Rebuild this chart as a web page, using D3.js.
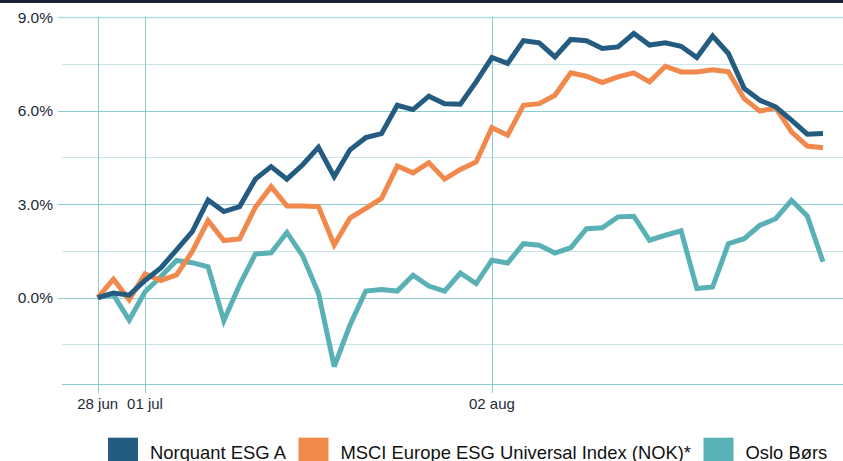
<!DOCTYPE html>
<html>
<head>
<meta charset="utf-8">
<script src="https://cdn.jsdelivr.net/npm/d3@7"></script>
<style>
  html, body { margin: 0; padding: 0; background: #ffffff; }
  svg { display: block; font-family: "Liberation Sans", Arial, sans-serif; }
</style>
</head>
<body>
<svg id="chart" width="843" height="461"></svg>
<script>
// ---- Data ----
const dates = [
  "2021-06-28","2021-06-29","2021-06-30",
  "2021-07-01","2021-07-02",
  "2021-07-05","2021-07-06","2021-07-07","2021-07-08","2021-07-09",
  "2021-07-12","2021-07-13","2021-07-14","2021-07-15","2021-07-16",
  "2021-07-19","2021-07-20","2021-07-21","2021-07-22","2021-07-23",
  "2021-07-26","2021-07-27","2021-07-28","2021-07-29","2021-07-30",
  "2021-08-02","2021-08-03","2021-08-04","2021-08-05","2021-08-06",
  "2021-08-09","2021-08-10","2021-08-11","2021-08-12","2021-08-13",
  "2021-08-16","2021-08-17","2021-08-18","2021-08-19","2021-08-20",
  "2021-08-23","2021-08-24","2021-08-25","2021-08-26","2021-08-27",
  "2021-08-30","2021-08-31"
];

const norquant = [
  0.00, 0.15, 0.08, 0.55, 0.95, 1.53, 2.12, 3.13, 2.76, 2.92,
  3.80, 4.20, 3.80, 4.26, 4.82, 3.88, 4.74, 5.13, 5.26, 6.17,
  6.03, 6.46, 6.22, 6.20, 6.92, 7.70, 7.51, 8.24, 8.17, 7.72,
  8.28, 8.24, 7.99, 8.04, 8.47, 8.10, 8.17, 8.06, 7.70, 8.39,
  7.83, 6.71, 6.33, 6.12, 5.69, 5.24, 5.26
];

const msci = [
  0.00, 0.59, -0.07, 0.76, 0.55, 0.73, 1.48, 2.47, 1.83, 1.88,
  2.90, 3.56, 2.94, 2.94, 2.92, 1.69, 2.55, 2.86, 3.18, 4.22,
  4.00, 4.33, 3.80, 4.11, 4.35, 5.45, 5.21, 6.17, 6.22, 6.49,
  7.21, 7.10, 6.90, 7.08, 7.21, 6.92, 7.42, 7.24, 7.24, 7.31,
  7.24, 6.38, 5.98, 6.09, 5.32, 4.86, 4.81
];

const oslo = [
  0.00, 0.09, -0.72, 0.19, 0.67, 1.19, 1.12, 0.99, -0.74, 0.41,
  1.40, 1.44, 2.09, 1.34, 0.14, -2.21, -0.88, 0.21, 0.26, 0.21,
  0.72, 0.37, 0.21, 0.79, 0.45, 1.20, 1.11, 1.73, 1.68, 1.43,
  1.60, 2.21, 2.24, 2.59, 2.61, 1.84, 2.00, 2.14, 0.29, 0.34,
  1.73, 1.89, 2.32, 2.53, 3.12, 2.62, 1.15
];

const seriesNames = ["Norquant ESG A", "MSCI Europe ESG Universal Index (NOK)*", "Oslo Børs"];
const seriesColors = ["#245b81", "#f0894b", "#5ab1b5"];

const xTickDates = ["2021-06-28", "2021-07-01", "2021-08-02"];
const xTickLabels = ["28 jun", "01 jul", "02 aug"];

const yMajorTicks = [0, 3, 6, 9];
const yMinorTicks = [-1.5, 1.5, 4.5, 7.5];
const yTickFormat = d => d.toFixed(1) + "%";

// ---- Layout ----
const W = 843, H = 461;
const plotLeft = 62, plotRight = 843;
const yDomainMin = -2.78, yDomainMax = 9.0;

const svg = d3.select("#chart");

// top dark bar
svg.append("rect").attr("x", 0).attr("y", 0).attr("width", W).attr("height", 3).attr("fill", "#1b2234");

const x = d3.scalePoint().domain(dates).range([97.7, 823]);
const y = d3.scaleLinear().domain([yDomainMin, yDomainMax]).range([384.3, 17]);

const grid = svg.append("g");

// minor gridlines
grid.selectAll("line.minor").data(yMinorTicks).enter().append("line")
  .attr("class", "minor")
  .attr("x1", plotLeft).attr("x2", plotRight)
  .attr("y1", d => Math.round(y(d)) + 0.5).attr("y2", d => Math.round(y(d)) + 0.5)
  .attr("stroke", "#c6e6e7").attr("stroke-width", 1);

// major gridlines
grid.selectAll("line.major").data(yMajorTicks).enter().append("line")
  .attr("class", "major")
  .attr("x1", plotLeft - 4).attr("x2", plotRight)
  .attr("y1", d => Math.round(y(d)) + 0.5).attr("y2", d => Math.round(y(d)) + 0.5)
  .attr("stroke", d => d === 9 ? "#b3dfe0" : "#8ccdd0").attr("stroke-width", d => d === 9 ? 1.6 : 1);

// bottom axis line
grid.append("line")
  .attr("x1", plotLeft).attr("x2", plotRight)
  .attr("y1", Math.round(y(yDomainMin)) + 0.5).attr("y2", Math.round(y(yDomainMin)) + 0.5)
  .attr("stroke", "#8ccdd0").attr("stroke-width", 1);

// vertical date lines
grid.selectAll("line.vx").data(xTickDates).enter().append("line")
  .attr("class", "vx")
  .attr("x1", d => Math.round(x(d)) + 0.5).attr("x2", d => Math.round(x(d)) + 0.5)
  .attr("y1", y(yDomainMax)).attr("y2", 393)
  .attr("stroke", "#8ccdd0").attr("stroke-width", 1);

// y labels
svg.selectAll("text.ylab").data(yMajorTicks).enter().append("text")
  .attr("class", "ylab")
  .attr("x", 53).attr("y", d => y(d) + 5.5)
  .attr("text-anchor", "end")
  .attr("font-size", 15.5).attr("fill", "#222a3a")
  .text(yTickFormat);

// x labels
svg.selectAll("text.xlab").data(xTickDates).enter().append("text")
  .attr("class", "xlab")
  .attr("x", d => x(d)).attr("y", 408.5)
  .attr("text-anchor", "middle")
  .attr("font-size", 15).attr("fill", "#222a3a")
  .text((d, i) => xTickLabels[i]);

// lines
const line = d3.line().x((d, i) => x(dates[i])).y(d => y(d));
const allSeries = [norquant, msci, oslo];
const drawOrder = [2, 1, 0];
drawOrder.forEach(k => {
  svg.append("path")
    .datum(allSeries[k])
    .attr("d", line)
    .attr("fill", "none")
    .attr("stroke", seriesColors[k])
    .attr("stroke-width", 5)
    .attr("stroke-linejoin", "miter")
    .attr("stroke-miterlimit", 3)
    .attr("stroke-linecap", "butt");
});

// legend
const legend = svg.append("g");
let lx = 108;
seriesNames.forEach((name, i) => {
  legend.append("rect").attr("x", lx).attr("y", 437.7).attr("width", 30).attr("height", 30)
    .attr("fill", seriesColors[i]);
  const t = legend.append("text").attr("x", lx + 42).attr("y", 458.5)
    .attr("font-size", 18.4).attr("fill", "#111").text(name);
  const w = t.node().getComputedTextLength();
  lx = lx + 42 + w + 12.5;
});
</script>
</body>
</html>
